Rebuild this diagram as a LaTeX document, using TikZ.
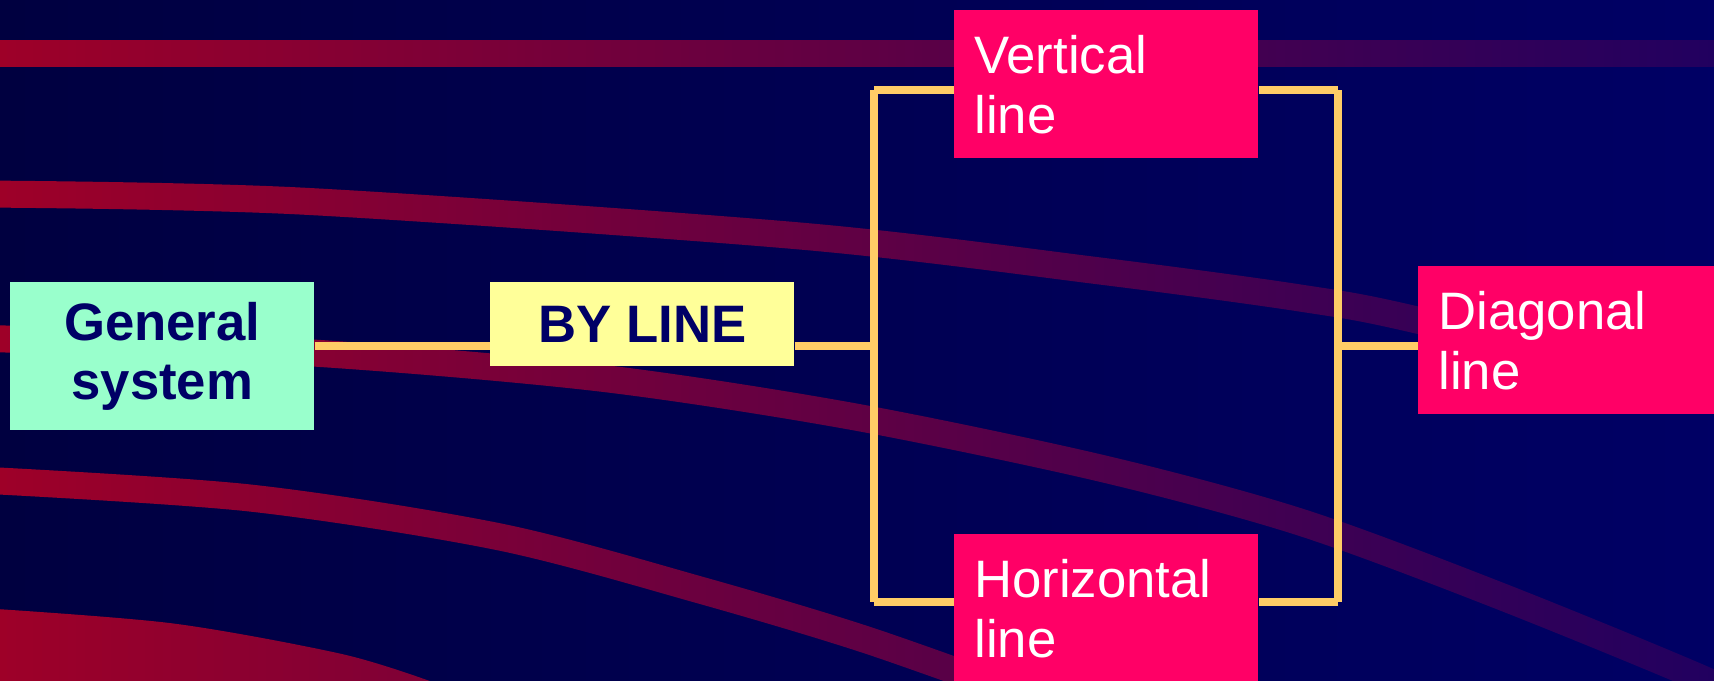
\documentclass[tikz,border=0pt]{standalone}
\usepackage{fontspec}
\setmainfont{Liberation Sans}
\usetikzlibrary{fadings}
\definecolor{bgdark}{HTML}{000040}
\definecolor{bgtint}{HTML}{00006F}
\definecolor{bandred}{HTML}{A00028}
\definecolor{navytext}{HTML}{000066}
\definecolor{mintfill}{HTML}{99FFCC}
\definecolor{lemonfill}{HTML}{FFFF99}
\definecolor{rosefill}{HTML}{FF0066}
\definecolor{linkgold}{HTML}{FFCC66}
\tikzfading[name=bandfade, left color=transparent!100, right color=transparent!20]
\tikzset{
  band/.style={draw=bandred, line width=0.54cm},
  greenbox/.style={fill=mintfill, text=navytext, font=\fontsize{30}{34}\selectfont\bfseries,
    minimum width=6.08cm, minimum height=2.96cm, inner sep=0pt, align=center},
  yellowbox/.style={greenbox, fill=lemonfill, minimum height=1.68cm},
  pinkbox/.style={fill=rosefill, text=white, font=\fontsize{30}{34}\selectfont,
    text width=5.28cm, inner xsep=0.4cm, inner ysep=0pt, minimum height=2.96cm, align=left},
  link/.style={draw=linkgold, line width=0.16cm}
}
\begin{document}
\begin{tikzpicture}[x=0.02cm, y=-0.02cm]
    \useasboundingbox (0,0) rectangle (1714,680);
    \fill[bgdark] (-20,-20) rectangle (1734,700);
    % red sweeps
    \draw[band] (-20,53) -- (1734,53);
    \draw[band] plot[smooth] coordinates {(-20,194) (300,201) (800,236) (1100,271) (1300,298) (1417,320) (1730,398)};
    \draw[band] plot[smooth] coordinates {(-20,338) (313,353) (600,378) (850,416) (1100,468) (1300,522) (1500,596) (1714,684) (1800,730)};
    \draw[band] plot[smooth] coordinates {(-20,480) (250,498) (500,537) (700,590) (867,640) (1050,705)};
    \draw[band, line width=1.6cm] plot[smooth] coordinates {(-20,648) (167,663) (333,693) (420,720)};
    \fill[bgtint, path fading=bandfade] (-20,-20) rectangle (1734,700);
    % boxes
    \node[greenbox, anchor=north west] (gen) at (10,282) {General\\system};
    \node[yellowbox, anchor=north west] (by) at (490,282) {BY LINE};
    \node[pinkbox, anchor=north west] (vert) at (954,10) {Vertical\\line};
    \node[pinkbox, anchor=north west] (hor) at (954,534) {Horizontal\\line};
    \node[pinkbox, anchor=north west] (diag) at (1418,266) {Diagonal\\line};
    % connectors
    \coordinate (jl) at (874,346);
    \coordinate (jr) at (1338,346);
    \coordinate (tl) at (874,90);
    \coordinate (tr) at (1338,90);
    \coordinate (bl) at (874,602);
    \coordinate (br) at (1338,602);
    \draw[link] (gen.east |- jl) -- (by.west |- jl);
    \draw[link] (by.east |- jl) -- (jl);
    \draw[link] (vert.west |- tl) -- (tl) (tl) -- (bl) (bl) -- (hor.west |- bl);
    \draw[link] (vert.east |- tr) -- (tr) (tr) -- (br) (br) -- (hor.east |- br);
    \draw[link] (jr) -- (diag.west |- jr);
\end{tikzpicture}
\end{document}
